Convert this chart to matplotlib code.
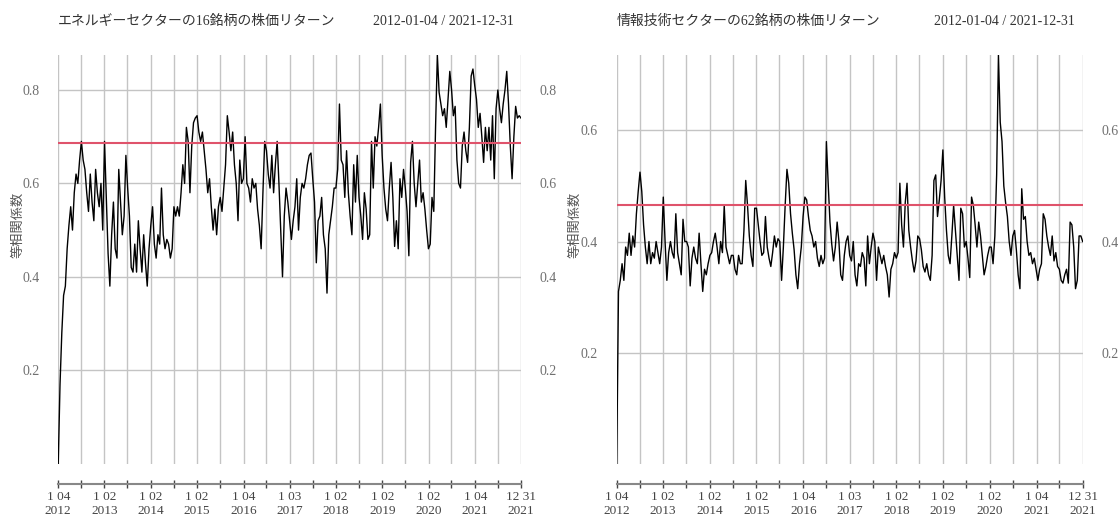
import matplotlib
matplotlib.use('Agg')
import matplotlib.pyplot as plt
import pandas as pd

plt.rcParams['font.family'] = ['Liberation Serif', 'Noto Sans CJK JP']

start_date = '2012-01-04'
end_date = '2021-12-31'

# rolling equi-correlation (13 readings per half year)
energy = [
    0.00, 0.17, 0.28, 0.36, 0.38, 0.46, 0.51, 0.55, 0.50, 0.58, 0.62, 0.60, 0.65,
    0.69, 0.65, 0.63, 0.58, 0.54, 0.62, 0.56, 0.52, 0.63, 0.58, 0.55, 0.60, 0.50,
    0.69, 0.57, 0.45, 0.38, 0.49, 0.56, 0.46, 0.44, 0.63, 0.56, 0.49, 0.53, 0.66,
    0.59, 0.53, 0.42, 0.41, 0.47, 0.41, 0.52, 0.46, 0.41, 0.49, 0.43, 0.38, 0.46,
    0.51, 0.55, 0.47, 0.44, 0.49, 0.47, 0.59, 0.49, 0.46, 0.48, 0.47, 0.44, 0.46,
    0.55, 0.53, 0.55, 0.53, 0.58, 0.64, 0.60, 0.72, 0.69, 0.58, 0.68, 0.73, 0.74,
    0.745, 0.71, 0.69, 0.71, 0.67, 0.63, 0.58, 0.61, 0.55, 0.50, 0.545, 0.49, 0.55,
    0.57, 0.54, 0.59, 0.64, 0.745, 0.71, 0.67, 0.71, 0.64, 0.60, 0.52, 0.65, 0.60,
    0.61, 0.70, 0.60, 0.59, 0.56, 0.61, 0.59, 0.60, 0.545, 0.51, 0.46, 0.58, 0.69,
    0.67, 0.62, 0.59, 0.66, 0.58, 0.64, 0.69, 0.60, 0.50, 0.40, 0.53, 0.59, 0.56,
    0.52, 0.48, 0.52, 0.55, 0.61, 0.50, 0.57, 0.60, 0.59, 0.61, 0.64, 0.66, 0.665,
    0.61, 0.56, 0.43, 0.52, 0.53, 0.57, 0.49, 0.46, 0.365, 0.49, 0.52, 0.55, 0.59,
    0.59, 0.63, 0.77, 0.65, 0.64, 0.57, 0.67, 0.58, 0.53, 0.49, 0.64, 0.56, 0.66,
    0.57, 0.53, 0.48, 0.58, 0.545, 0.48, 0.49, 0.69, 0.59, 0.70, 0.68, 0.72, 0.77,
    0.66, 0.59, 0.545, 0.52, 0.59, 0.645, 0.57, 0.465, 0.52, 0.46, 0.61, 0.57, 0.63,
    0.59, 0.54, 0.445, 0.645, 0.69, 0.60, 0.55, 0.60, 0.65, 0.56, 0.58, 0.545, 0.50,
    0.46, 0.47, 0.57, 0.54, 0.72, 0.875, 0.795, 0.77, 0.745, 0.76, 0.72, 0.78, 0.84,
    0.80, 0.745, 0.765, 0.65, 0.60, 0.59, 0.68, 0.71, 0.67, 0.645, 0.72, 0.83, 0.845,
    0.81, 0.78, 0.72, 0.75, 0.70, 0.645, 0.72, 0.67, 0.72, 0.65, 0.745, 0.61, 0.76,
    0.80, 0.76, 0.73, 0.77, 0.80, 0.84, 0.77, 0.68, 0.61, 0.70, 0.765, 0.74, 0.745,
    0.74,
]

tech = [
    0.00, 0.31, 0.33, 0.36, 0.33, 0.39, 0.375, 0.415, 0.375, 0.41, 0.39, 0.45, 0.49,
    0.525, 0.49, 0.43, 0.39, 0.36, 0.40, 0.36, 0.38, 0.37, 0.40, 0.38, 0.36, 0.39,
    0.48, 0.40, 0.33, 0.38, 0.40, 0.38, 0.37, 0.45, 0.38, 0.36, 0.34, 0.44, 0.40,
    0.40, 0.39, 0.32, 0.37, 0.39, 0.37, 0.36, 0.415, 0.36, 0.31, 0.35, 0.34, 0.36,
    0.375, 0.38, 0.40, 0.415, 0.39, 0.36, 0.40, 0.38, 0.465, 0.39, 0.375, 0.36, 0.375,
    0.375, 0.35, 0.34, 0.375, 0.36, 0.36, 0.42, 0.51, 0.465, 0.41, 0.375, 0.355, 0.46,
    0.46, 0.43, 0.40, 0.375, 0.38, 0.445, 0.39, 0.37, 0.355, 0.38, 0.41, 0.39, 0.405,
    0.40, 0.33, 0.39, 0.465, 0.53, 0.505, 0.45, 0.415, 0.385, 0.34, 0.315, 0.36, 0.39,
    0.445, 0.48, 0.475, 0.445, 0.42, 0.41, 0.39, 0.40, 0.37, 0.355, 0.375, 0.36, 0.37,
    0.58, 0.505, 0.435, 0.395, 0.365, 0.39, 0.435, 0.40, 0.34, 0.33, 0.375, 0.40, 0.41,
    0.375, 0.365, 0.40, 0.34, 0.32, 0.36, 0.355, 0.38, 0.37, 0.32, 0.41, 0.36, 0.39,
    0.415, 0.40, 0.33, 0.39, 0.375, 0.36, 0.375, 0.355, 0.34, 0.30, 0.35, 0.36, 0.38,
    0.37, 0.38, 0.505, 0.43, 0.39, 0.47, 0.505, 0.42, 0.39, 0.365, 0.345, 0.365, 0.41,
    0.405, 0.385, 0.355, 0.345, 0.36, 0.34, 0.33, 0.375, 0.51, 0.52, 0.445, 0.475, 0.51,
    0.565, 0.48, 0.42, 0.375, 0.36, 0.41, 0.465, 0.42, 0.375, 0.33, 0.46, 0.45, 0.39,
    0.40, 0.37, 0.335, 0.48, 0.465, 0.43, 0.39, 0.435, 0.41, 0.375, 0.34, 0.355, 0.375,
    0.39, 0.39, 0.36, 0.41, 0.52, 0.736, 0.615, 0.58, 0.50, 0.47, 0.445, 0.40, 0.375,
    0.41, 0.42, 0.385, 0.34, 0.315, 0.495, 0.44, 0.445, 0.40, 0.375, 0.38, 0.36, 0.37,
    0.35, 0.33, 0.35, 0.36, 0.45, 0.44, 0.41, 0.39, 0.375, 0.41, 0.365, 0.38, 0.355,
    0.35, 0.33, 0.325, 0.34, 0.35, 0.325, 0.435, 0.43, 0.39, 0.315, 0.33, 0.41, 0.41,
    0.40,
]

energy_ref = 0.687
tech_ref = 0.465

energy_title = 'エネルギーセクターの16銘柄の株価リターン'
tech_title = '情報技術セクターの62銘柄の株価リターン'
date_range_text = '2012-01-04 / 2021-12-31'
y_label = '等相関係数'

tick_dates = ['2012-01-04', '2012-07-02', '2013-01-02', '2013-07-01', '2014-01-02',
              '2014-07-01', '2015-01-02', '2015-07-01', '2016-01-04', '2016-07-01',
              '2017-01-03', '2017-07-03', '2018-01-02', '2018-07-02', '2019-01-02',
              '2019-07-01', '2020-01-02', '2020-07-01', '2021-01-04', '2021-07-01',
              '2021-12-31']
tick_labels = ['1 04\n2012', '', '1 02\n2013', '', '1 02\n2014', '', '1 02\n2015', '',
               '1 04\n2016', '', '1 03\n2017', '', '1 02\n2018', '', '1 02\n2019', '',
               '1 02\n2020', '', '1 04\n2021', '', '12 31\n2021']

energy_yticks = [0.2, 0.4, 0.6, 0.8]
tech_yticks = [0.2, 0.4, 0.6]

fig = plt.figure(figsize=(11.18, 5.19), dpi=100)


def draw_panel(rect, values, ref, yticks, title, ylab_x):
    ax = fig.add_axes(rect)
    dates = pd.date_range(start_date, end_date, periods=len(values))
    ax.plot(dates, values, color='black', linewidth=1.0, zorder=3)
    ax.axhline(ref, color='#DF536B', linewidth=1.5, zorder=4)

    ax.set_xlim(pd.Timestamp(start_date), pd.Timestamp(end_date))
    ax.set_ylim(min(values), max(values))

    ax.set_xticks(pd.to_datetime(tick_dates))
    ax.set_xticklabels(tick_labels)
    for lbl in ax.get_xticklabels():
        lbl.set_linespacing(1.0)
    ax.set_yticks(yticks)
    ax.set_yticklabels(['%.1f' % v for v in yticks])

    ax.grid(True, color='#c4c4c4', linewidth=1.0, zorder=1)

    for s in ['top', 'left', 'right']:
        ax.spines[s].set_visible(False)
    ax.spines['bottom'].set_position(('outward', 14.8))
    ax.spines['bottom'].set_color('#888888')
    ax.spines['bottom'].set_linewidth(1.5)

    ax.tick_params(axis='x', direction='inout', length=6, width=1.0, color='#444444',
                   pad=2, labelsize=9.5, labelcolor='#444444')
    ax.tick_params(axis='y', left=False, right=False, labelleft=True, labelright=True,
                   pad=10, labelsize=10, labelcolor='#707070')

    ax.text(0.0, 1.083, title, transform=ax.transAxes, ha='left', va='center',
            fontsize=10, color='#333333')
    ax.text(0.984, 1.083, date_range_text, transform=ax.transAxes, ha='right',
            va='center', fontsize=10, color='#333333')
    ax.text(ylab_x, 0.584, y_label, transform=ax.transAxes, rotation=90,
            ha='center', va='center', fontsize=9.5, color='#555555')
    return ax


draw_panel([0.0521, 0.1069, 0.4139, 0.7871], energy, energy_ref, energy_yticks,
           energy_title, -0.087)
draw_panel([0.5516, 0.1069, 0.4168, 0.7871], tech, tech_ref, tech_yticks,
           tech_title, -0.0895)

plt.savefig('out.png', dpi=100)
